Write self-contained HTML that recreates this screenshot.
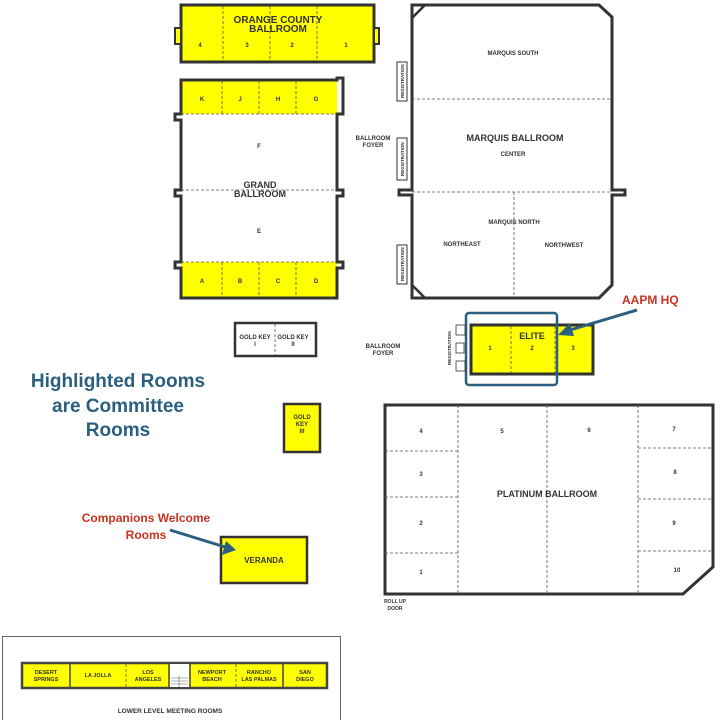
<!DOCTYPE html>
<html><head><meta charset="utf-8"><style>
html,body{margin:0;padding:0;background:#fff;}
svg{display:block;}
text{font-family:"Liberation Sans",Arial,sans-serif;font-weight:bold;}
.s{font-size:6px;fill:#333;}
.m{font-size:7.5px;fill:#333;}
.w{fill:none;stroke:#333;stroke-width:3;}
.d{stroke:#555;stroke-width:0.8;stroke-dasharray:3 2;fill:none;}
</style></head><body>
<svg width="720" height="720" viewBox="0 0 720 720" xmlns="http://www.w3.org/2000/svg">
<!-- Orange County -->
<rect x="181" y="5" width="193" height="57" fill="#ffff00" stroke="#333" stroke-width="3"/>
<rect x="175" y="28" width="6" height="16" fill="#ffff00" stroke="#333" stroke-width="2"/>
<rect x="374" y="28" width="5" height="16" fill="#ffff00" stroke="#333" stroke-width="2"/>
<line x1="223" y1="6" x2="223" y2="61" class="d"/><line x1="270" y1="6" x2="270" y2="61" class="d"/><line x1="317" y1="6" x2="317" y2="61" class="d"/>
<text x="278" y="23" text-anchor="middle" style="font-size:10px;fill:#333">ORANGE COUNTY</text>
<text x="278" y="32" text-anchor="middle" style="font-size:10px;fill:#333">BALLROOM</text>
<text x="200" y="47" class="s" text-anchor="middle">4</text><text x="247" y="47" class="s" text-anchor="middle">3</text><text x="292" y="47" class="s" text-anchor="middle">2</text><text x="346" y="47" class="s" text-anchor="middle">1</text>
<!-- Grand -->
<rect x="181" y="80" width="156" height="34" fill="#ffff00"/>
<rect x="181" y="262" width="156" height="36" fill="#ffff00"/>
<path class="w" d="M181 80 H337 V78 H343 V114 H337 V190 H343 V196 H337 V262 H343 V268 H337 V298 H181 V268 H175 V262 H181 V196 H175 V190 H181 V120 H175 V114 H181 Z"/>
<line x1="181" y1="114" x2="337" y2="114" class="d"/><line x1="181" y1="190" x2="337" y2="190" class="d"/><line x1="181" y1="262" x2="337" y2="262" class="d"/>
<line x1="222" y1="81" x2="222" y2="114" class="d"/><line x1="259" y1="81" x2="259" y2="114" class="d"/><line x1="296" y1="81" x2="296" y2="114" class="d"/>
<line x1="222" y1="262" x2="222" y2="297" class="d"/><line x1="259" y1="262" x2="259" y2="297" class="d"/><line x1="296" y1="262" x2="296" y2="297" class="d"/>
<text x="202" y="101" class="s" text-anchor="middle">K</text><text x="240" y="101" class="s" text-anchor="middle">J</text><text x="278" y="101" class="s" text-anchor="middle">H</text><text x="316" y="101" class="s" text-anchor="middle">G</text>
<text x="259" y="148" class="s" text-anchor="middle">F</text>
<text x="260" y="188" text-anchor="middle" style="font-size:9px;fill:#333">GRAND</text>
<text x="260" y="197" text-anchor="middle" style="font-size:9px;fill:#333">BALLROOM</text>
<text x="259" y="233" class="s" text-anchor="middle">E</text>
<text x="202" y="283" class="s" text-anchor="middle">A</text><text x="240" y="283" class="s" text-anchor="middle">B</text><text x="278" y="283" class="s" text-anchor="middle">C</text><text x="316" y="283" class="s" text-anchor="middle">D</text>
<text x="373" y="140" class="s" text-anchor="middle">BALLROOM</text><text x="373" y="147" class="s" text-anchor="middle">FOYER</text>
<!-- Marquis -->
<path class="w" d="M412 298 V195 H399 V190 H412 V5 H599 L612 17 V190 H625 V195 H612 V285 L599 298 Z"/>
<path d="M412 18 L425 5 M412 285 L425 298 M612 285 L599 298" stroke="#333" stroke-width="2.5"/>
<line x1="412" y1="99" x2="612" y2="99" class="d"/><line x1="412" y1="192" x2="612" y2="192" class="d"/><line x1="514" y1="192" x2="514" y2="298" class="d"/>
<g fill="#fff" stroke="#333" stroke-width="1"><rect x="397" y="62" width="10" height="39"/><rect x="397" y="138" width="10" height="42"/><rect x="397" y="245" width="10" height="39"/></g>
<g style="font-size:4.5px;fill:#333"><text transform="translate(404,98) rotate(-90)">REGISTRATION</text><text transform="translate(404,176) rotate(-90)">REGISTRATION</text><text transform="translate(404,281) rotate(-90)">REGISTRATION</text></g>
<text x="513" y="55" class="s" text-anchor="middle">MARQUIS SOUTH</text>
<text x="515" y="141" text-anchor="middle" style="font-size:9px;fill:#333">MARQUIS BALLROOM</text>
<text x="513" y="156" class="s" text-anchor="middle">CENTER</text>
<text x="514" y="224" class="s" text-anchor="middle">MARQUIS NORTH</text>
<text x="462" y="246" class="s" text-anchor="middle">NORTHEAST</text>
<text x="564" y="247" class="s" text-anchor="middle">NORTHWEST</text>
<!-- Elite -->
<rect x="471" y="325" width="122" height="49" fill="#ffff00" stroke="#333" stroke-width="3"/>
<line x1="511" y1="326" x2="511" y2="373" class="d"/><line x1="555" y1="326" x2="555" y2="373" class="d"/>
<text x="532" y="339" text-anchor="middle" style="font-size:9px;fill:#333">ELITE</text>
<text x="490" y="350" class="s" text-anchor="middle">1</text><text x="532" y="350" class="s" text-anchor="middle">2</text><text x="573" y="350" class="s" text-anchor="middle">3</text>
<rect x="466" y="313" width="91" height="72" rx="3" fill="none" stroke="#2a5f80" stroke-width="2.5"/>
<g fill="#fff" stroke="#333" stroke-width="0.8"><rect x="456" y="325" width="9" height="10"/><rect x="456" y="343" width="8" height="10"/><rect x="456" y="361" width="9" height="10"/></g>
<text transform="translate(451,365) rotate(-90)" style="font-size:4.5px;fill:#333">REGISTRATION</text>
<text x="383" y="348" class="s" text-anchor="middle">BALLROOM</text><text x="383" y="355" class="s" text-anchor="middle">FOYER</text>
<text x="622" y="304" style="font-size:12px;fill:#c8321e">AAPM  HQ</text>
<line x1="637" y1="310" x2="570" y2="330" stroke="#2a5f80" stroke-width="3"/>
<polygon points="558,335 570,323 574,336" fill="#2a5f80"/>
<!-- Gold key -->
<rect x="235" y="323" width="81" height="33" fill="#fff" stroke="#333" stroke-width="2.5"/>
<line x1="275" y1="324" x2="275" y2="355" class="d"/>
<text x="255" y="339" class="s" text-anchor="middle">GOLD KEY</text><text x="255" y="346" class="s" text-anchor="middle">I</text>
<text x="293" y="339" class="s" text-anchor="middle">GOLD KEY</text><text x="293" y="346" class="s" text-anchor="middle">II</text>
<rect x="284" y="404" width="36" height="48" fill="#ffff00" stroke="#333" stroke-width="2.5"/>
<text x="302" y="419" class="s" text-anchor="middle">GOLD</text><text x="302" y="426" class="s" text-anchor="middle">KEY</text><text x="302" y="433" class="s" text-anchor="middle">III</text>
<!-- Veranda -->
<rect x="221" y="537" width="86" height="46" fill="#ffff00" stroke="#333" stroke-width="2.5"/>
<text x="264" y="563" text-anchor="middle" style="font-size:8px;fill:#333">VERANDA</text>
<text x="118" y="387" text-anchor="middle" style="font-size:19px;fill:#2a5f80">Highlighted Rooms</text>
<text x="118" y="412" text-anchor="middle" style="font-size:19px;fill:#2a5f80">are Committee</text>
<text x="118" y="436" text-anchor="middle" style="font-size:19px;fill:#2a5f80">Rooms</text>
<text x="146" y="522" text-anchor="middle" style="font-size:12px;fill:#c8321e">Companions Welcome</text>
<text x="146" y="539" text-anchor="middle" style="font-size:12px;fill:#c8321e">Rooms</text>
<line x1="170" y1="530" x2="225" y2="547" stroke="#2a5f80" stroke-width="3"/>
<polygon points="236,550 222,555 226,541" fill="#2a5f80"/>
<!-- Platinum -->
<path class="w" d="M385 405 H713 V567 L683 594 H385 Z"/>
<line x1="458" y1="405" x2="458" y2="594" class="d"/><line x1="547" y1="405" x2="547" y2="594" class="d"/><line x1="638" y1="405" x2="638" y2="594" class="d"/>
<line x1="385" y1="451" x2="458" y2="451" class="d"/><line x1="385" y1="497" x2="458" y2="497" class="d"/><line x1="385" y1="553" x2="458" y2="553" class="d"/>
<line x1="638" y1="448" x2="713" y2="448" class="d"/><line x1="638" y1="499" x2="713" y2="499" class="d"/><line x1="638" y1="551" x2="713" y2="551" class="d"/>
<text x="421" y="433" class="s" text-anchor="middle">4</text><text x="502" y="433" class="s" text-anchor="middle">5</text><text x="589" y="432" class="s" text-anchor="middle">6</text><text x="674" y="431" class="s" text-anchor="middle">7</text>
<text x="421" y="476" class="s" text-anchor="middle">3</text><text x="675" y="474" class="s" text-anchor="middle">8</text>
<text x="547" y="497" text-anchor="middle" style="font-size:9px;fill:#333">PLATINUM BALLROOM</text>
<text x="421" y="525" class="s" text-anchor="middle">2</text><text x="674" y="525" class="s" text-anchor="middle">9</text>
<text x="421" y="574" class="s" text-anchor="middle">1</text><text x="677" y="572" class="s" text-anchor="middle">10</text>
<text x="395" y="603" style="font-size:5px;fill:#333" text-anchor="middle">ROLL UP</text><text x="395" y="610" style="font-size:5px;fill:#333" text-anchor="middle">DOOR</text>
<!-- Lower level -->
<rect x="2.5" y="636.5" width="338" height="84" fill="#fff" stroke="#666" stroke-width="1"/>
<rect x="22" y="663" width="305" height="25" fill="#ffff00" stroke="#444" stroke-width="2.5"/>
<rect x="170" y="664" width="19" height="23" fill="#fff"/>
<g stroke="#444" stroke-width="1.5"><line x1="70" y1="663" x2="70" y2="688"/><line x1="169" y1="663" x2="169" y2="688"/><line x1="190" y1="663" x2="190" y2="688"/><line x1="283" y1="663" x2="283" y2="688"/></g>
<line x1="126" y1="664" x2="126" y2="687" class="d"/><line x1="236" y1="664" x2="236" y2="687" class="d"/>
<g stroke="#666" stroke-width="0.6"><line x1="171" y1="678" x2="188" y2="678"/><line x1="171" y1="681" x2="188" y2="681"/><line x1="171" y1="684" x2="188" y2="684"/><line x1="179" y1="676" x2="179" y2="687"/></g>
<g style="font-size:5.5px;fill:#333" text-anchor="middle">
<text x="46" y="674">DESERT</text><text x="46" y="681">SPRINGS</text>
<text x="98" y="677">LA JOLLA</text>
<text x="148" y="674">LOS</text><text x="148" y="681">ANGELES</text>
<text x="212" y="674">NEWPORT</text><text x="212" y="681">BEACH</text>
<text x="259" y="674">RANCHO</text><text x="259" y="681">LAS PALMAS</text>
<text x="305" y="674">SAN</text><text x="305" y="681">DIEGO</text>
</g>
<text x="170" y="713" text-anchor="middle" style="font-size:6.5px;fill:#333">LOWER LEVEL MEETING ROOMS</text>
</svg>
</body></html>
